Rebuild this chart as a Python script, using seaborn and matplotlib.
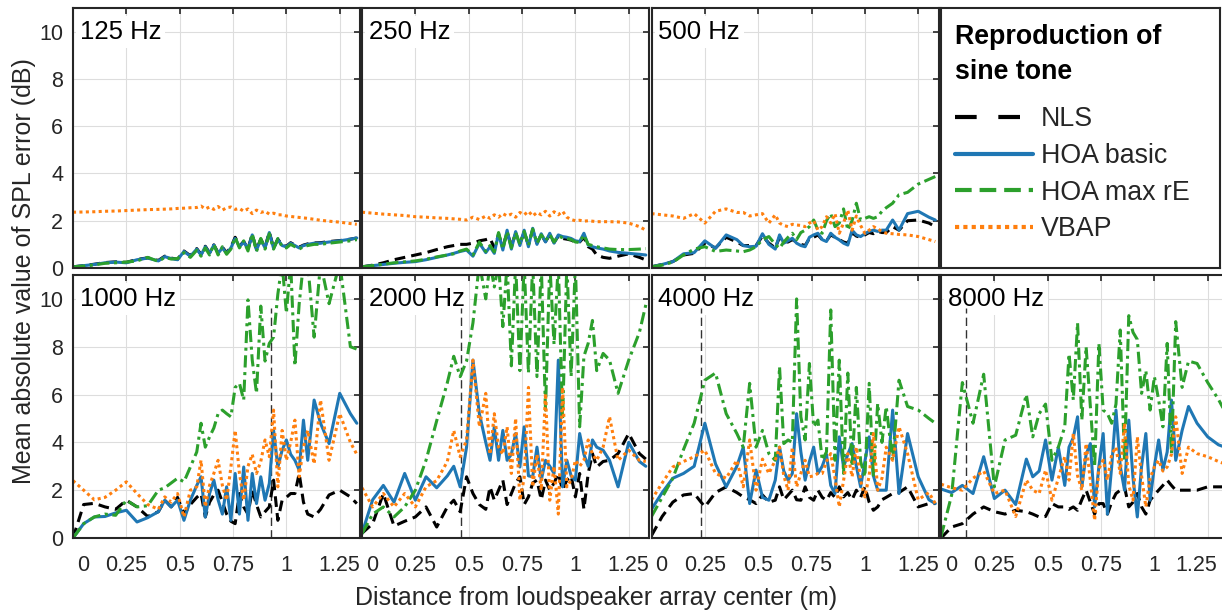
import pandas as pd
import matplotlib.pyplot as plt
import matplotlib.transforms as mtransforms
from matplotlib.lines import Line2D
import seaborn as sns

# distance from array center (m), shared by all panels
dist = [0.00, 0.05, 0.10, 0.15, 0.20, 0.25, 0.30, 0.35, 0.40, 0.43,
        0.46, 0.49, 0.52, 0.55, 0.58, 0.60, 0.62, 0.64, 0.66, 0.68,
        0.70, 0.72, 0.74, 0.76, 0.78, 0.80, 0.82, 0.84, 0.86, 0.88,
        0.90, 0.92, 0.94, 0.96, 0.98, 1.00, 1.02, 1.04, 1.06, 1.08,
        1.10, 1.13, 1.16, 1.20, 1.25, 1.30, 1.33]

# 125 Hz
nls_125 = [0.05, 0.10, 0.16, 0.23, 0.26, 0.24, 0.36, 0.43, 0.32, 0.50,
           0.42, 0.37, 0.72, 0.52, 0.82, 0.57, 0.92, 0.64, 0.98, 0.65,
           0.88, 0.65, 0.88, 1.30, 0.92, 1.12, 0.82, 1.42, 0.78, 1.22,
           0.88, 1.52, 0.85, 1.22, 0.97, 0.92, 1.07, 0.97, 0.88, 0.97,
           1.02, 1.06, 1.07, 1.12, 1.16, 1.22, 1.27]
hoa_125 = [0.05, 0.10, 0.15, 0.22, 0.25, 0.22, 0.35, 0.42, 0.30, 0.48,
           0.40, 0.35, 0.70, 0.50, 0.80, 0.55, 0.90, 0.62, 0.97, 0.62,
           0.85, 0.62, 0.85, 1.25, 0.90, 1.10, 0.80, 1.40, 0.76, 1.20,
           0.85, 1.50, 0.83, 1.20, 0.95, 0.90, 1.05, 0.95, 0.85, 0.95,
           1.00, 1.05, 1.05, 1.10, 1.15, 1.22, 1.27]
maxre_125 = [0.05, 0.08, 0.13, 0.20, 0.22, 0.25, 0.30, 0.45, 0.28, 0.45,
             0.38, 0.40, 0.65, 0.45, 0.75, 0.50, 0.85, 0.55, 1.00, 0.55,
             0.90, 0.58, 0.80, 1.30, 0.85, 1.15, 0.72, 1.45, 0.70, 1.25,
             0.80, 1.45, 0.80, 1.25, 0.90, 0.85, 1.00, 0.90, 0.80, 0.90,
             0.95, 1.00, 1.00, 1.05, 1.10, 1.15, 1.20]
vbap_125 = [2.36, 2.37, 2.38, 2.40, 2.41, 2.43, 2.45, 2.47, 2.48, 2.49,
            2.50, 2.52, 2.53, 2.55, 2.56, 2.62, 2.50, 2.58, 2.48, 2.60,
            2.45, 2.55, 2.58, 2.48, 2.52, 2.40, 2.50, 2.30, 2.45, 2.35,
            2.40, 2.28, 2.32, 2.25, 2.25, 2.20, 2.18, 2.16, 2.14, 2.12,
            2.10, 2.06, 2.02, 1.98, 1.94, 1.88, 1.85]

# 250 Hz
nls_250 = [0.05, 0.12, 0.22, 0.35, 0.45, 0.55, 0.65, 0.78, 0.90, 0.95,
           1.00, 1.00, 1.05, 1.15, 1.20, 1.26, 0.85, 1.40, 0.90, 1.50,
           0.95, 1.45, 1.05, 1.50, 1.00, 1.60, 1.05, 1.40, 1.12, 1.40,
           1.08, 1.35, 1.25, 1.22, 1.18, 1.10, 1.10, 1.30, 0.90, 0.80,
           0.55, 0.45, 0.41, 0.50, 0.60, 0.45, 0.34]
hoa_250 = [0.05, 0.10, 0.15, 0.20, 0.24, 0.27, 0.35, 0.45, 0.55, 0.62,
           0.70, 0.76, 0.50, 1.05, 0.65, 0.90, 0.62, 1.47, 0.76, 1.60,
           0.80, 1.54, 0.95, 1.60, 0.90, 1.68, 1.00, 1.45, 1.10, 1.47,
           1.05, 1.40, 1.33, 1.30, 1.25, 1.15, 1.12, 1.47, 0.97, 0.90,
           0.85, 0.80, 0.72, 0.66, 0.62, 0.58, 0.55]
maxre_250 = [0.05, 0.10, 0.16, 0.22, 0.26, 0.30, 0.37, 0.47, 0.55, 0.60,
             0.72, 0.80, 0.55, 1.10, 0.70, 0.95, 0.68, 1.50, 0.80, 1.55,
             0.85, 1.50, 1.00, 1.55, 0.95, 1.65, 1.05, 1.40, 1.15, 1.42,
             1.10, 1.35, 1.28, 1.25, 1.20, 1.10, 1.08, 1.40, 1.00, 0.95,
             0.90, 0.85, 0.80, 0.78, 0.78, 0.80, 0.82]
vbap_250 = [2.36, 2.32, 2.28, 2.25, 2.22, 2.17, 2.15, 2.12, 2.10, 2.08,
            2.06, 2.03, 2.15, 2.05, 2.20, 2.10, 2.25, 2.15, 2.30, 2.20,
            2.28, 2.15, 2.35, 2.25, 2.40, 2.20, 2.35, 2.25, 2.40, 2.20,
            2.38, 2.25, 2.40, 2.15, 2.05, 2.00, 2.02, 1.98, 2.00, 1.98,
            1.96, 1.96, 1.96, 1.95, 1.90, 1.75, 1.60]

# 500 Hz
nls_500 = [0.05, 0.15, 0.27, 0.55, 0.62, 1.05, 0.85, 1.30, 1.10, 0.95,
           0.95, 0.95, 1.35, 1.05, 0.85, 1.30, 1.10, 1.10, 1.20, 1.10,
           1.00, 0.95, 1.25, 1.30, 1.40, 1.20, 1.15, 1.40, 1.30, 1.20,
           1.10, 1.05, 1.50, 1.35, 1.30, 1.40, 1.50, 1.45, 1.55, 1.50,
           1.50, 1.75, 1.60, 2.00, 2.03, 1.90, 1.75]
hoa_500 = [0.05, 0.15, 0.27, 0.60, 0.65, 1.15, 0.83, 1.40, 1.20, 0.95,
           0.90, 0.92, 1.45, 1.00, 0.80, 1.40, 1.05, 1.15, 1.26, 1.05,
           0.95, 0.90, 1.30, 1.40, 1.47, 1.20, 1.12, 1.47, 1.30, 1.19,
           1.05, 0.97, 1.60, 1.40, 1.33, 1.45, 1.55, 1.60, 1.55, 1.60,
           1.60, 2.03, 1.60, 2.30, 2.40, 2.15, 2.03]
maxre_500 = [0.05, 0.12, 0.25, 0.55, 0.80, 0.90, 0.70, 0.76, 0.72, 0.69,
             0.76, 0.90, 1.20, 1.33, 1.00, 0.83, 1.10, 1.30, 1.47, 1.20,
             1.50, 1.60, 1.75, 2.03, 1.60, 1.47, 2.00, 2.30, 1.75, 1.90,
             2.50, 1.60, 2.00, 2.74, 2.03, 2.10, 2.17, 2.10, 2.17, 2.40,
             2.55, 2.74, 3.10, 3.20, 3.55, 3.75, 3.87]
vbap_500 = [2.30, 2.25, 2.20, 2.10, 2.30, 1.90, 2.40, 2.50, 2.35, 2.35,
            2.20, 2.25, 2.30, 1.90, 2.25, 1.90, 1.80, 1.75, 1.85, 1.82,
            1.80, 1.75, 1.90, 2.00, 1.60, 1.75, 2.17, 1.90, 2.30, 1.47,
            1.90, 2.45, 1.60, 2.20, 1.80, 1.47, 1.60, 1.75, 1.65, 1.55,
            1.47, 1.45, 1.42, 1.40, 1.33, 1.20, 1.12]

# 1000 Hz
nls_1000 = [0.00, 1.40, 1.45, 1.30, 1.20, 1.58, 1.30, 0.90, 1.10, 1.58,
            1.30, 1.70, 1.00, 1.40, 1.70, 1.86, 0.88, 1.50, 1.80, 2.00,
            1.50, 1.00, 0.70, 0.60, 1.86, 1.30, 1.00, 2.00, 1.40, 0.88,
            1.10, 1.30, 2.42, 0.74, 1.58, 1.70, 1.86, 1.86, 2.70, 1.50,
            1.00, 0.88, 1.20, 1.80, 2.00, 1.72, 1.44]
hoa_1000 = [0.00, 0.60, 0.88, 0.90, 1.05, 1.16, 0.67, 0.85, 1.10, 1.58,
            1.30, 1.58, 0.74, 1.58, 2.20, 2.56, 0.88, 1.86, 2.42, 1.60,
            1.00, 2.14, 0.74, 2.70, 1.00, 2.97, 0.74, 2.70, 1.44, 2.56,
            1.58, 2.28, 4.50, 2.97, 3.67, 4.10, 3.50, 3.25, 2.84, 4.93,
            3.25, 5.77, 4.80, 3.95, 6.05, 5.20, 4.80]
maxre_1000 = [0.00, 0.60, 0.88, 1.00, 0.95, 1.58, 1.30, 1.35, 2.00, 2.10,
              2.30, 2.50, 2.35, 2.97, 3.60, 4.80, 3.80, 4.23, 4.60, 5.20,
              5.35, 5.20, 5.07, 6.30, 6.47, 5.77, 9.96, 7.44, 6.05, 9.70,
              7.40, 8.14, 8.40, 10.20, 11.50, 9.40, 11.50, 7.20, 9.80, 11.50,
              11.50, 8.40, 11.50, 9.80, 11.50, 8.00, 7.90]
vbap_1000 = [2.40, 2.00, 1.60, 1.70, 2.00, 2.35, 1.86, 1.40, 1.20, 1.72,
             1.50, 1.86, 0.88, 2.00, 2.14, 3.25, 1.30, 2.20, 2.70, 3.25,
             2.20, 1.58, 2.97, 4.50, 2.70, 1.58, 3.00, 3.50, 2.70, 3.20,
             4.10, 3.40, 5.35, 2.14, 4.50, 3.25, 4.00, 4.93, 2.56, 3.80,
             4.50, 3.10, 5.77, 3.25, 5.20, 4.00, 3.50]

# 2000 Hz
nls_2000 = [0.20, 0.60, 1.86, 0.50, 0.70, 0.88, 1.30, 0.46, 1.30, 1.58,
            1.10, 2.56, 1.86, 1.40, 1.20, 2.14, 1.58, 2.00, 2.42, 1.40,
            1.86, 2.30, 2.56, 1.40, 1.72, 2.30, 2.42, 1.60, 2.42, 2.00,
            2.30, 2.70, 2.00, 2.42, 2.60, 1.72, 2.70, 1.20, 2.70, 3.53,
            2.97, 3.20, 3.25, 3.53, 4.37, 3.53, 3.30]
hoa_2000 = [0.20, 1.60, 2.20, 1.50, 2.70, 1.58, 2.56, 2.10, 2.60, 3.00,
            2.14, 3.80, 7.44, 5.20, 4.00, 3.25, 4.65, 3.25, 4.50, 3.25,
            3.50, 4.37, 2.97, 4.65, 2.60, 2.56, 3.80, 2.42, 3.25, 3.00,
            2.70, 7.44, 2.14, 3.25, 2.60, 2.42, 4.37, 3.50, 3.00, 4.10,
            3.80, 3.67, 3.25, 2.14, 4.00, 3.20, 3.00]
maxre_2000 = [0.18, 1.00, 1.30, 0.88, 1.30, 2.00, 3.25, 4.90, 6.50, 7.60,
              6.75, 7.40, 9.00, 11.50, 10.00, 11.50, 10.50, 11.50, 8.84, 11.50,
              7.20, 11.50, 7.00, 11.50, 6.90, 11.50, 6.75, 11.50, 5.35, 11.50,
              8.10, 11.50, 4.93, 11.50, 6.75, 11.50, 4.65, 7.60, 8.14, 9.10,
              7.00, 7.72, 7.44, 6.05, 7.44, 8.60, 9.75]
vbap_2000 = [2.10, 1.30, 1.86, 1.30, 1.86, 1.30, 2.14, 2.40, 3.20, 4.50,
             3.40, 4.10, 7.44, 4.65, 6.05, 3.50, 5.20, 3.80, 3.50, 4.65,
             2.70, 5.00, 1.58, 2.50, 6.30, 2.14, 3.50, 2.00, 6.05, 1.58,
             3.00, 1.00, 6.30, 2.14, 2.42, 3.25, 3.00, 3.25, 4.10, 3.50,
             3.25, 3.80, 5.07, 3.25, 3.67, 3.25, 3.20]

# 4000 Hz
nls_4000 = [0.10, 0.90, 1.50, 1.80, 1.86, 1.30, 1.90, 2.14, 1.90, 1.72,
            1.60, 1.44, 1.80, 1.50, 1.58, 2.14, 1.60, 1.80, 2.00, 1.60,
            1.58, 2.14, 1.70, 1.58, 2.00, 1.70, 1.58, 1.90, 1.70, 2.14,
            1.72, 1.90, 1.60, 2.00, 1.70, 2.14, 1.50, 1.16, 1.30, 1.60,
            1.70, 1.86, 1.90, 2.14, 1.30, 1.44, 1.44]
hoa_4000 = [1.20, 1.90, 2.50, 2.70, 3.00, 4.80, 3.10, 2.14, 3.00, 3.80,
            1.44, 2.84, 1.70, 1.58, 2.42, 3.80, 2.80, 2.42, 2.70, 5.20,
            3.60, 2.42, 3.20, 3.80, 2.70, 3.00, 3.50, 2.20, 1.86, 4.23,
            2.97, 3.50, 3.95, 3.00, 2.14, 3.20, 4.23, 2.60, 2.00, 2.00,
            2.00, 5.35, 1.86, 4.37, 2.56, 1.60, 1.44]
maxre_4000 = [0.90, 1.70, 2.50, 3.70, 4.80, 6.60, 6.90, 5.20, 4.37, 3.80,
              6.47, 3.80, 4.50, 3.53, 3.25, 7.16, 3.95, 4.10, 4.00, 10.00,
              5.07, 4.10, 7.30, 4.65, 4.93, 3.25, 3.60, 9.54, 3.25, 7.44,
              2.70, 6.90, 3.00, 6.30, 3.20, 2.56, 6.47, 2.56, 5.63, 4.00,
              5.50, 3.25, 6.60, 5.50, 5.35, 5.00, 4.80]
vbap_4000 = [1.60, 2.30, 2.97, 3.20, 3.40, 3.67, 2.70, 2.50, 3.25, 2.14,
             4.10, 2.00, 3.30, 2.70, 3.25, 3.80, 2.60, 2.00, 3.80, 2.14,
             2.70, 3.25, 2.56, 2.60, 2.70, 2.70, 3.20, 3.53, 2.50, 1.30,
             2.40, 3.53, 2.56, 3.80, 2.40, 1.72, 2.60, 4.37, 2.00, 2.50,
             3.80, 3.25, 4.65, 3.53, 1.60, 1.90, 1.44]

# 8000 Hz
nls_8000 = [0.00, 0.46, 0.60, 1.00, 1.30, 1.10, 1.00, 1.16, 1.10, 1.00,
            0.88, 0.90, 1.44, 1.30, 1.30, 1.20, 1.30, 1.16, 1.60, 2.00,
            1.50, 1.00, 1.44, 1.44, 1.00, 1.50, 1.86, 2.00, 2.14, 1.30,
            1.50, 1.86, 1.30, 1.00, 1.58, 1.80, 2.00, 2.20, 2.42, 2.20,
            2.00, 2.00, 2.00, 2.00, 2.14, 2.14, 2.14]
hoa_8000 = [2.05, 1.90, 2.20, 1.86, 3.40, 1.65, 2.00, 1.40, 3.30, 2.56,
            2.80, 4.10, 2.42, 3.80, 2.20, 3.80, 4.20, 5.07, 2.14, 3.50,
            3.95, 1.30, 3.00, 4.37, 1.00, 3.00, 5.35, 3.00, 2.00, 4.93,
            2.50, 0.88, 3.00, 4.37, 1.58, 3.00, 4.10, 2.84, 3.60, 5.77,
            3.25, 4.50, 5.50, 4.80, 4.23, 3.90, 3.80]
maxre_8000 = [0.05, 1.80, 6.50, 4.80, 6.85, 2.14, 4.10, 4.30, 6.00, 4.23,
              5.20, 5.60, 3.25, 3.80, 4.65, 7.70, 5.77, 9.00, 4.93, 8.00,
              5.50, 2.97, 8.14, 5.35, 5.20, 4.80, 5.60, 8.70, 3.25, 9.30,
              8.60, 8.30, 6.05, 7.00, 5.35, 6.75, 5.77, 4.65, 8.14, 3.53,
              9.05, 6.30, 7.40, 7.30, 6.50, 5.80, 5.30]
vbap_8000 = [2.25, 2.10, 2.00, 2.50, 2.80, 1.86, 2.00, 0.90, 2.42, 2.00,
             1.86, 2.84, 1.58, 2.50, 3.40, 2.42, 4.37, 2.60, 2.00, 3.95,
             2.40, 0.74, 2.90, 3.25, 2.42, 3.50, 3.80, 2.70, 4.80, 2.20,
             1.58, 4.23, 2.60, 1.30, 2.50, 2.97, 3.25, 2.80, 2.97, 3.50,
             5.07, 2.70, 3.80, 3.53, 3.40, 3.20, 3.10]

# spatial aliasing distance marked in the lower panels (m)
alias_dist = [0.93, 0.465, 0.232, 0.116]

methods = ['NLS', 'HOA basic', 'HOA max rE', 'VBAP']
palette = {'NLS': 'black', 'HOA basic': '#1f77b4',
           'HOA max rE': '#2ca02c', 'VBAP': '#ff7f0e'}
dash_map = {'NLS': (3.5, 2), 'HOA basic': '',
            'HOA max rE': (4, 1.5, 1, 1.5), 'VBAP': (1, 1.1)}
legend_ls = {'NLS': (0, (5.2, 5.2)), 'HOA basic': '-',
             'HOA max rE': (0, (4, 1.9)), 'VBAP': (0, (1, 1))}

panels = [
    ('125 Hz', 0, 0, [nls_125, hoa_125, maxre_125, vbap_125], None),
    ('250 Hz', 0, 1, [nls_250, hoa_250, maxre_250, vbap_250], None),
    ('500 Hz', 0, 2, [nls_500, hoa_500, maxre_500, vbap_500], None),
    ('1000 Hz', 1, 0, [nls_1000, hoa_1000, maxre_1000, vbap_1000], alias_dist[0]),
    ('2000 Hz', 1, 1, [nls_2000, hoa_2000, maxre_2000, vbap_2000], alias_dist[1]),
    ('4000 Hz', 1, 2, [nls_4000, hoa_4000, maxre_4000, vbap_4000], alias_dist[2]),
    ('8000 Hz', 1, 3, [nls_8000, hoa_8000, maxre_8000, vbap_8000], alias_dist[3]),
]

sns.set_theme(style="white")
plt.rcParams['font.family'] = ['Liberation Sans', 'DejaVu Sans']

W, H = 1222, 615
fig = plt.figure(figsize=(W / 100, H / 100), dpi=100)

col_left = [73, 362, 651.5, 941]
row_top = [8, 275]
row_h = [260, 263]
ax_w = 287
ink = '#262626'


def px_rect(left, top, w, h):
    return [left / W, 1 - (top + h) / H, w / W, h / H]


def shift_label(lab, dx_px):
    lab.set_transform(lab.get_transform() + mtransforms.ScaledTranslation(
        dx_px / 100, 0, fig.dpi_scale_trans))


for name, r, c, series, alias in panels:
    ax = fig.add_axes(px_rect(col_left[c], row_top[r], ax_w, row_h[r]))
    df = pd.DataFrame({
        'dist': dist * 4,
        'err': sum(series, []),
        'method': [m for m in methods for _ in dist],
    })
    sns.lineplot(data=df, x='dist', y='err', hue='method', style='method',
                 hue_order=methods, style_order=methods, palette=palette,
                 dashes=dash_map, linewidth=2.2, estimator=None,
                 errorbar=None, legend=False, ax=ax)
    if alias is not None:
        ax.axvline(alias, ymax=9.6 / 11, color='#333333', lw=1.0,
                   dashes=(6, 3), zorder=1.5)

    ax.set_xlim(0, 1.345)
    ax.set_ylim(0, 11)
    ax.set_xticks([0, 0.25, 0.5, 0.75, 1, 1.25])
    ax.set_xticklabels(['0', '0.25', '0.5', '0.75', '1', '1.25'])
    ax.set_yticks([0, 2, 4, 6, 8, 10])
    ax.set_axisbelow(True)
    ax.grid(True, color='#dddddd', lw=0.8)
    ax.set_xlabel('')
    ax.set_ylabel('')
    ax.tick_params(direction='in', length=4, width=1.2, top=True, right=True,
                   color=ink, labelcolor=ink, labelsize=15.5)
    ax.tick_params(axis='x', pad=12)
    ax.tick_params(axis='y', pad=7)
    for s in ax.spines.values():
        s.set_linewidth(1.5)
        s.set_color(ink)
    if r == 0:
        ax.tick_params(axis='x', labelbottom=False)
    else:
        # the "0" label sits a little right of the panel edge, as in the original
        labs = ax.get_xticklabels()
        shift_label(labs[0], 10)
        if c == 3:
            shift_label(labs[-1], -11)
    if c != 0:
        ax.tick_params(axis='y', labelleft=False)

    ax.text(0.024, 0.881, name, transform=ax.transAxes, ha='left',
            va='baseline', fontsize=18.5, color='black', zorder=1,
            bbox=dict(boxstyle='square,pad=0.15', fc='white', ec='none'))

# legend panel
lax = fig.add_axes(px_rect(941, 8, 279, 260))
lax.set_xticks([])
lax.set_yticks([])
for s in lax.spines.values():
    s.set_linewidth(1.5)
    s.set_color(ink)
lax.text(0.05, 0.94, 'Reproduction of\nsine tone', transform=lax.transAxes,
         ha='left', va='top', fontsize=19.3, fontweight='bold',
         linespacing=1.45, color='black')
handles = [Line2D([], [], color=palette[m], lw=3, linestyle=legend_ls[m])
           for m in methods]
lax.legend(handles, methods, loc='upper left', bbox_to_anchor=(0.05, 0.622),
           frameon=False, borderaxespad=0, borderpad=0, handlelength=2.9,
           handletextpad=0.3, labelspacing=0.40, fontsize=19.3)

fig.text(596 / W, 1 - 598 / H, 'Distance from loudspeaker array center (m)',
         ha='center', va='center', fontsize=18, color=ink)
fig.text(24 / W, 1 - 271 / H, 'Mean absolute value of SPL error (dB)',
         ha='center', va='center', rotation=90, fontsize=18, color=ink)

fig.savefig('out.png', dpi=100)
